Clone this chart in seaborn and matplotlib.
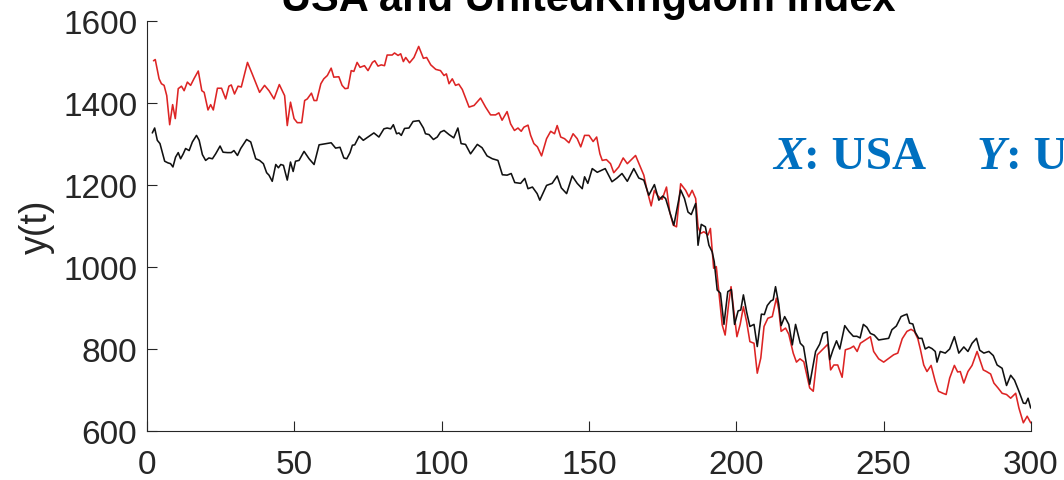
import matplotlib
matplotlib.use("Agg")
import matplotlib.pyplot as plt
import seaborn as sns
import pandas as pd

# USA index (black line)
usa_t = [1.8, 2.6, 3.5, 4.4, 5.2, 6.0, 7.1, 8.0, 8.8, 9.7, 10.6, 11.4, 12.3, 13.1, 14.3,
         15.4, 16.8, 17.7, 18.8, 19.9, 21.0, 22.2, 23.3, 24.8, 25.8, 27.3, 28.6, 29.5,
         30.7, 31.8, 33.8, 35.2, 36.9, 38.2, 39.5, 40.6, 41.4, 42.5, 43.7, 44.6, 45.4,
         46.3, 47.6, 48.7, 49.6, 50.4, 51.6, 53.3, 55.0, 56.7, 58.4, 60.1, 62.5, 64.0,
         65.5, 66.8, 67.8, 68.9, 69.7, 70.5, 72.0, 73.4, 75.0, 77.0, 78.7, 80.4, 81.5,
         82.7, 83.6, 84.7, 85.5, 86.3, 87.4, 88.9, 90.3, 92.3, 93.8, 94.5, 95.7, 97.2,
         98.5, 99.6, 100.8, 102.5, 104.1, 105.5, 106.6, 108.1, 109.8, 112.1, 113.7,
         115.4, 117.2, 119.1, 120.6, 122.2, 123.6, 124.8, 126.8, 128.2, 129.3, 130.8,
         132.4, 133.3, 135.6, 137.5, 139.2, 140.6, 142.4, 144.3, 146.0, 147.7, 148.5,
         149.6, 151.1, 152.8, 155.5, 157.8, 159.5, 161.2, 163.0, 165.2, 166.9, 168.6,
         170.3, 172.2, 173.7, 175.0, 176.0, 177.4, 178.8, 179.9, 181.1, 182.4, 183.6,
         184.7, 186.2, 187.0, 188.1, 189.5, 190.7, 191.8, 192.5, 193.5, 194.6, 195.8,
         197.1, 198.3, 199.4, 200.6, 201.5, 202.4, 203.5, 204.6, 206.0, 207.1, 208.5,
         209.5, 210.5, 211.7, 212.5, 213.3, 214.4, 215.2, 216.4, 217.8, 219.0, 220.1,
         221.7, 222.8, 224.9, 226.9, 228.3, 229.4, 230.8, 231.7, 232.8, 234.0, 235.1,
         236.8, 238.3, 239.7, 240.9, 242.0, 243.1, 244.3, 245.5, 246.8, 248.3, 250.0,
         251.7, 252.8, 254.3, 255.9, 256.8, 257.9, 258.8, 259.9, 260.7, 261.9, 263.0,
         264.1, 265.3, 266.4, 267.5, 268.1, 269.2, 270.9, 272.4, 274.0, 275.5, 277.2,
         278.6, 280.0, 281.5, 282.6, 284.0, 285.7, 287.2, 288.5, 290.2, 291.7, 293.1,
         294.4, 295.9, 297.4, 298.2, 299.0, 299.9]
usa_v = [1327, 1339, 1309, 1301, 1280, 1258, 1254, 1252, 1244, 1268, 1279, 1264, 1276, 1289, 1284,
         1305, 1321, 1309, 1274, 1260, 1266, 1264, 1276, 1295, 1280, 1279, 1279, 1284,
         1272, 1289, 1311, 1305, 1264, 1260, 1252, 1230, 1224, 1209, 1250, 1242, 1250,
         1248, 1212, 1256, 1233, 1258, 1260, 1282, 1264, 1250, 1298, 1300, 1303, 1290,
         1292, 1266, 1264, 1279, 1297, 1298, 1319, 1309, 1317, 1327, 1317, 1337, 1339,
         1337, 1347, 1325, 1327, 1321, 1338, 1339, 1355, 1357, 1339, 1325, 1323, 1311,
         1317, 1329, 1333, 1323, 1315, 1339, 1301, 1299, 1276, 1299, 1291,
         1271, 1264, 1260, 1225, 1224, 1228, 1206, 1204, 1216, 1191, 1195,
         1179, 1163, 1199, 1204, 1222, 1193, 1179, 1222, 1204, 1191, 1220,
         1204, 1240, 1231, 1240, 1208, 1217, 1228, 1209, 1240, 1217, 1212,
         1175, 1201, 1163, 1173, 1167, 1134, 1102, 1143, 1188, 1167, 1134,
         1128, 1155, 1053, 1104, 1098, 1053, 1037, 1013, 944, 936, 860,
         940, 945, 860, 893, 895, 932, 890, 855, 860, 806, 885,
         884, 906, 917, 920, 952, 909, 857, 879, 860, 810, 860,
         814, 806, 714, 794, 812, 838, 842, 774, 798, 820, 800,
         857, 842, 831, 831, 827, 860, 853, 838, 834, 822, 824,
         826, 847, 856, 879, 882, 885, 863, 861, 841, 826, 826,
         800, 805, 801, 794, 768, 794, 790, 800, 830, 790, 805,
         794, 814, 826, 797, 790, 794, 784, 761, 753, 711, 736,
         724, 697, 668, 667, 680, 656]

# UnitedKingdom index (red line)
uk_t = [2.2, 2.8, 4.1, 4.9, 5.8, 6.7, 7.7, 8.7, 9.6, 10.6, 11.7, 12.6, 13.7, 14.8, 16.0,
        17.4, 18.6, 19.4, 20.7, 21.6, 22.5, 23.9, 25.3, 26.7, 27.8, 28.6, 29.7, 30.9,
        32.0, 34.1, 35.7, 38.2, 39.9, 41.4, 43.1, 44.9, 46.7, 47.6, 48.7, 49.9, 51.0,
        52.5, 53.5, 54.4, 55.8, 56.7, 57.6, 59.0, 60.0, 61.2, 62.5, 63.4, 65.1, 66.2,
        67.2, 68.2, 69.3, 70.2, 71.3, 72.3, 73.8, 75.0, 76.5, 77.3, 78.4, 79.5, 80.6,
        81.5, 83.2, 84.0, 85.2, 86.1, 87.0, 87.8, 89.1, 90.6, 92.2, 93.8, 94.9, 96.3,
        98.0, 99.6, 100.8, 101.6, 102.5, 103.6, 104.7, 105.8, 107.0, 109.3, 111.0,
        113.2, 114.9, 116.6, 118.3, 119.4, 120.5, 122.2, 123.4, 124.7, 125.9, 127.0,
        127.9, 129.3, 130.2, 131.3, 132.5, 133.9, 135.6, 137.0, 138.3, 139.2, 140.4,
        141.7, 143.2, 144.6, 146.0, 147.2, 148.5, 150.0, 151.4, 152.6, 153.7, 154.5,
        155.9, 157.3, 158.4, 160.1, 161.6, 163.0, 164.1, 165.8, 167.2, 168.6, 169.7,
        171.1, 172.2, 173.4, 174.8, 176.3, 177.4, 178.6, 179.7, 181.1, 182.8, 183.9,
        185.0, 186.2, 187.0, 187.9, 189.0, 190.4, 191.2, 192.3, 193.2, 194.3, 195.2,
        196.2, 197.4, 198.2, 199.1, 200.2, 201.3, 202.4, 203.5, 204.6, 206.0, 207.1,
        208.3, 209.4, 210.7, 212.2, 213.6, 214.4, 215.2, 216.7, 217.8, 219.3, 220.4,
        221.6, 222.9, 224.9, 226.1, 227.5, 228.6, 229.7, 231.1, 232.0, 233.1, 234.4,
        235.9, 237.0, 238.7, 239.8, 241.0, 242.1, 243.8, 245.5, 246.6, 248.3, 250.0,
        251.7, 253.4, 254.8, 256.3, 257.9, 259.3, 260.4, 261.6, 262.5, 263.6, 264.7,
        266.1, 267.5, 268.6, 270.1, 271.2, 272.4, 274.0, 275.1, 276.0, 277.2, 278.6,
        280.0, 281.7, 282.9, 283.8, 284.9, 286.3, 287.4, 288.8, 290.2, 291.7, 293.1,
        294.8, 295.9, 297.4, 298.7, 299.9]
uk_v = [1503, 1506, 1459, 1447, 1443, 1418, 1347, 1396, 1362, 1435, 1441, 1430, 1451, 1443, 1460,
        1478, 1430, 1426, 1383, 1396, 1383, 1436, 1436, 1410, 1441, 1444, 1422, 1441,
        1439, 1499, 1471, 1426, 1443, 1430, 1410, 1445, 1418, 1345, 1402, 1362, 1352,
        1352, 1406, 1410, 1424, 1406, 1406, 1447, 1459, 1467, 1485, 1463, 1464, 1443,
        1435, 1436, 1479, 1477, 1499, 1487, 1491, 1479, 1499, 1503, 1490, 1493, 1491,
        1517, 1517, 1522, 1516, 1520, 1501, 1511, 1498, 1511, 1538, 1509, 1511, 1493,
        1482, 1479, 1467, 1471, 1447, 1459, 1443, 1446, 1433, 1390, 1394,
        1412, 1390, 1371, 1371, 1376, 1358, 1379, 1349, 1333, 1339, 1331,
        1341, 1346, 1321, 1301, 1293, 1271, 1313, 1331, 1325, 1345, 1317,
        1313, 1303, 1325, 1313, 1293, 1321, 1321, 1306, 1317, 1276, 1260,
        1262, 1252, 1230, 1244, 1266, 1252, 1260, 1272, 1248, 1224, 1187,
        1149, 1187, 1173, 1165, 1195, 1134, 1102, 1098, 1203, 1187, 1171,
        1187, 1167, 1098, 1082, 1086, 1078, 1094, 997, 1001, 924, 859,
        834, 911, 952, 896, 830, 860, 903, 866, 818, 814, 741,
        778, 855, 875, 879, 924, 896, 843, 851, 836, 790, 768,
        776, 769, 705, 697, 786, 794, 802, 812, 749, 761, 761,
        731, 798, 802, 807, 794, 814, 822, 830, 794, 776, 768,
        777, 786, 790, 825, 843, 848, 843, 825, 798, 761, 745,
        760, 721, 697, 692, 689, 729, 760, 744, 745, 717, 745,
        760, 794, 768, 749, 745, 739, 717, 705, 692, 689, 680,
        692, 656, 620, 636, 620]

x_ticks = [0, 50, 100, 150, 200, 250, 300]
y_ticks = [600, 800, 1000, 1200, 1400, 1600]

sns.set_style("ticks")
plt.rcParams["font.family"] = ["Liberation Sans", "DejaVu Sans"]

ink = "#262626"
fig = plt.figure(figsize=(10.64, 4.81), dpi=100)
ax = fig.add_axes([147 / 1064, 1 - 432 / 481, (1031 - 147) / 1064, (432 - 22) / 481])

usa = pd.DataFrame({"t": usa_t, "value": usa_v})
uk = pd.DataFrame({"t": uk_t, "value": uk_v})
sns.lineplot(data=uk, x="t", y="value", ax=ax, color="#dd2424", lw=1.15,
             estimator=None, sort=False)
sns.lineplot(data=usa, x="t", y="value", ax=ax, color="#111111", lw=1.15,
             estimator=None, sort=False)

ax.set_xlim(0, 300)
ax.set_ylim(600, 1600)
ax.set_xticks(x_ticks)
ax.set_yticks(y_ticks)
ax.set_xticklabels([str(v) for v in x_ticks])
ax.set_yticklabels([str(v) for v in y_ticks])
ax.set_xlabel("")
ax.set_ylabel("y(t)", fontsize=27, color=ink, labelpad=6)
for side in ("top", "right"):
    ax.spines[side].set_visible(False)
for side in ("left", "bottom"):
    ax.spines[side].set_color(ink)
    ax.spines[side].set_linewidth(0.8)
ax.tick_params(axis="both", direction="in", length=7, width=0.8, color=ink,
               labelcolor=ink, labelsize=24)
ax.tick_params(axis="x", pad=13)
ax.tick_params(axis="y", pad=7)
ax.grid(False)

fig.text(588 / 1064, 1 - 11 / 481, "USA and UnitedKingdom index", ha="center",
         va="baseline", fontsize=30, fontweight="bold", color="black")

# series key written in blue serif text
blue = "#0070c0"
serif = ["Liberation Serif", "DejaVu Serif"]
base_y = 1 - 169 / 481
kx = fig.text(773 / 1064, base_y, "X", fontsize=34, fontweight="bold", fontstyle="italic",
              family=serif, color=blue, va="baseline")
ax.annotate(": USA", xy=(1, 0), xycoords=kx, va="bottom", ha="left", fontsize=34,
            fontweight="bold", family=serif, color=blue, annotation_clip=False)
ky = fig.text(977 / 1064, base_y, "Y", fontsize=34, fontweight="bold", fontstyle="italic",
              family=serif, color=blue, va="baseline")
ax.annotate(": UnitedKingdom", xy=(1, 0), xycoords=ky, va="bottom", ha="left", fontsize=34,
            fontweight="bold", family=serif, color=blue, annotation_clip=False)

fig.savefig("out.png", dpi=100)
